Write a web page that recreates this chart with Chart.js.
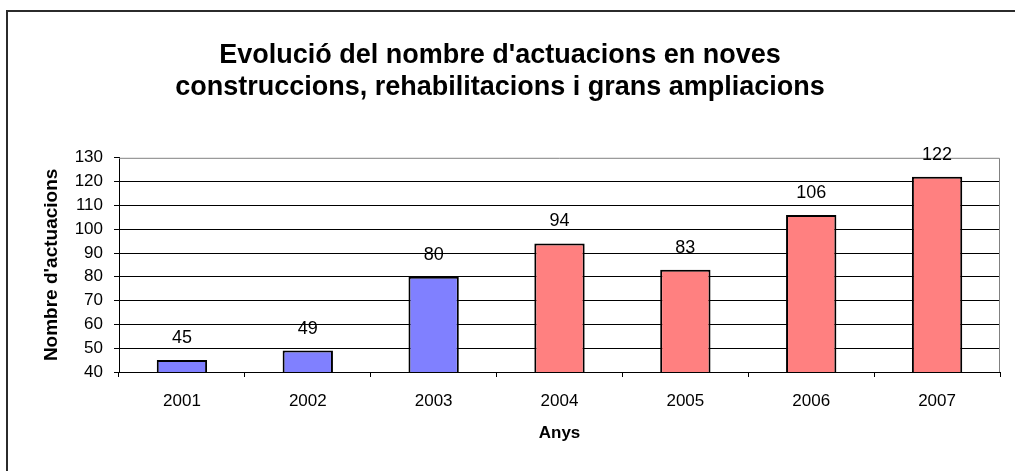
<!DOCTYPE html>
<html>
<head>
<meta charset="utf-8">
<script src="https://cdn.jsdelivr.net/npm/chart.js@4/dist/chart.umd.min.js"></script>
<style>
  html, body { margin: 0; padding: 0; background: #fff; }
  #wrap { width: 1015px; height: 471px; position: relative; }
</style>
</head>
<body>
<div id="wrap"><canvas id="barchart"></canvas></div>
<script>
const anys = ["2001", "2002", "2003", "2004", "2005", "2006", "2007"];
const actuacions = [45, 49, 80, 94, 83, 106, 122];
const titol = ["Evolució del nombre d'actuacions en noves", "construccions, rehabilitacions i grans ampliacions"];
const titolY = "Nombre d'actuacions";
const titolX = "Anys";

const ctx = document.getElementById("barchart").getContext("2d");
const FONT = "'Liberation Sans', Arial, sans-serif";

// first three years in blue, the rest in salmon
const colors = actuacions.map((v, i) => (i < 3 ? "#8080ff" : "#ff8080"));

const frame = {
  id: "frame",
  beforeDraw(chart) {
    const c = chart.ctx;
    c.save();
    c.fillStyle = "#2b2b2b";
    c.fillRect(6, 10, chart.width, 2);
    c.fillRect(6, 10, 2, chart.height);
    c.restore();
  },
  beforeDatasetsDraw(chart) {
    const a = chart.chartArea;
    const c = chart.ctx;
    c.save();
    c.strokeStyle = "#808080";
    c.lineWidth = 1;
    c.beginPath();
    c.moveTo(a.left, a.top + 0.5);
    c.lineTo(a.right - 0.5, a.top + 0.5);
    c.lineTo(a.right - 0.5, a.bottom);
    c.stroke();
    c.restore();
  },
};

const valueLabels = {
  id: "valueLabels",
  afterDatasetsDraw(chart) {
    const c = chart.ctx;
    const meta = chart.getDatasetMeta(0);
    c.save();
    c.font = "18px " + FONT;
    c.fillStyle = "#000";
    c.textAlign = "center";
    c.textBaseline = "middle";
    meta.data.forEach((bar, i) => {
      c.fillText(String(actuacions[i]), bar.x, bar.y - 22);
    });
    c.restore();
  },
};

new Chart(ctx, {
  type: "bar",
  data: {
    labels: anys,
    datasets: [{
      data: actuacions,
      backgroundColor: colors,
      borderColor: "#000",
      borderWidth: 2,
      borderSkipped: false,
      barPercentage: 0.4,
      categoryPercentage: 1,
    }],
  },
  options: {
    responsive: true,
    maintainAspectRatio: false,
    animation: false,
    layout: { padding: { left: 0, right: 15, top: 0, bottom: 0 } },
    plugins: {
      legend: { display: false },
      tooltip: { enabled: false },
      title: {
        display: true,
        text: titol,
        color: "#000",
        font: { family: FONT, size: 27, weight: "bold", lineHeight: 1.2 },
        padding: { top: 39, bottom: 54 },
      },
    },
    scales: {
      x: {
        afterFit(scale) { scale.height = 99; },
        grid: { drawOnChartArea: false, drawTicks: true, tickLength: 5, tickColor: "#000" },
        border: { color: "#000", width: 1 },
        ticks: { color: "#000", padding: 14, font: { family: FONT, size: 17 } },
        title: {
          display: true,
          text: titolX,
          color: "#000",
          font: { family: FONT, size: 17, weight: "bold" },
          padding: { top: 0, bottom: 27 },
        },
      },
      y: {
        min: 40,
        max: 130,
        afterFit(scale) { scale.width = 119; },
        grid: {
          color: (c) => (c.tick && c.tick.value === 130 ? "rgba(0,0,0,0)" : "#000"),
          lineWidth: 1,
          tickLength: 5,
          tickColor: "#000",
        },
        border: { color: "#000", width: 1 },
        ticks: { stepSize: 10, color: "#000", padding: 11, font: { family: FONT, size: 17 } },
        title: {
          display: true,
          text: titolY,
          color: "#000",
          font: { family: FONT, size: 19, weight: "bold" },
          padding: { top: 40, bottom: 0 },
        },
      },
    },
  },
  plugins: [frame, valueLabels],
});
</script>
</body>
</html>
